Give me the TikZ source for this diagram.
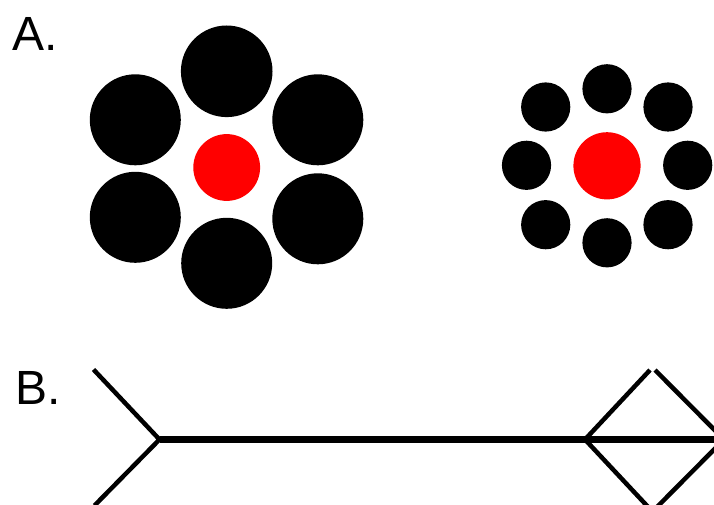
\documentclass[tikz,border=0pt]{standalone}
\usepackage{fontspec}
\setmainfont{Liberation Sans}
\begin{document}
\begin{tikzpicture}[x=1pt,y=-1pt,
  big/.style={fill=black},
  target/.style={fill=red},
  fin/.style={line width=4.5pt,line join=miter},
  shaft/.style={line width=6.5pt},
  lbl/.style={font=\fontsize{48}{48}\selectfont,anchor=base west,inner sep=0pt}]
\useasboundingbox (0,0) rectangle (714,505);
\begin{scope}
\clip (0,0) rectangle (714,505);
% labels
\node[lbl] (la) at (12.5,51) {A.};
\node[lbl] (lb) at (15.5,404.5) {B.};
% left flower
\fill[big] (226.7,71.3) circle (45.8);
\fill[big] (135.3,119.8) circle (45.5);
\fill[big] (317.8,119.8) circle (45.5);
\fill[big] (135.3,217.3) circle (45.5);
\fill[big] (317.8,218.8) circle (45.5);
\fill[big] (226.7,263.3) circle (45.5);
\fill[target] (226.7,167.5) circle (33.4);
% right flower
\fill[big] (607,88.8) circle (24.6);
\fill[big] (607,242.8) circle (24.6);
\fill[big] (526.5,165.3) circle (24.6);
\fill[big] (687.7,165.3) circle (24.6);
\fill[big] (545.7,107) circle (24.6);
\fill[big] (668,107) circle (24.6);
\fill[big] (545.7,224.7) circle (24.6);
\fill[big] (668,224.7) circle (24.6);
\fill[target] (607,165.8) circle (33.6);
% B
\coordinate (v1) at (159.5,439.5);
\coordinate (f1) at (93.5,369.5);
\coordinate (f2) at (94.5,505.5);
\coordinate (v2) at (585,439.5);
\coordinate (t1) at (650,370);
\coordinate (b1) at (650,509);
\coordinate (v3) at (724,439.5);
\coordinate (t2) at (655,370);
\coordinate (b2) at (655,509);
\coordinate (e) at (714,439.5);
\draw[shaft] (v1) -- (e);
\draw[fin] (f1) -- (v1) -- (f2);
\draw[fin] (t1) -- (v2) -- (b1);
\draw[fin] (t2) -- (v3) -- (b2);
\end{scope}
\end{tikzpicture}
\end{document}
